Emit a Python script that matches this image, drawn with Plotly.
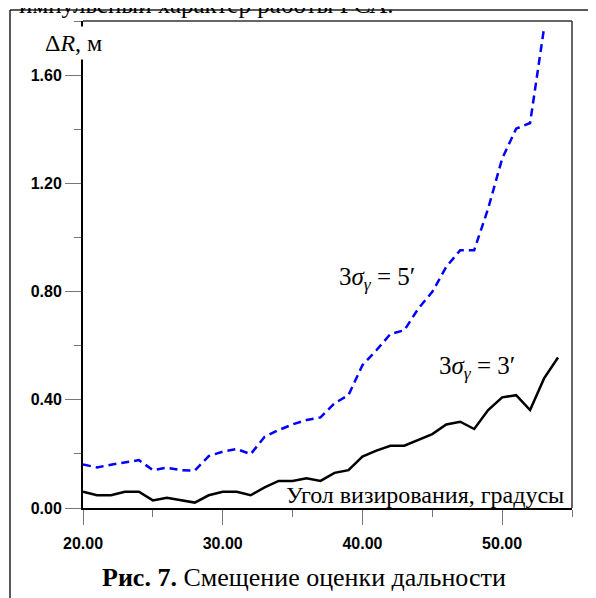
import plotly.graph_objects as go

# ---- data ----
angles_3 = list(range(20, 55))
offset_3 = [0.060, 0.047, 0.047, 0.060, 0.060, 0.028, 0.038, 0.030, 0.020, 0.047,
            0.060, 0.060, 0.047, 0.076, 0.100, 0.100, 0.110, 0.100, 0.130, 0.140,
            0.190, 0.212, 0.230, 0.230, 0.251, 0.273, 0.309, 0.319, 0.292, 0.362,
            0.409, 0.417, 0.362, 0.479, 0.556]
angles_5 = list(range(20, 54))
offset_5 = [0.161, 0.150, 0.160, 0.169, 0.177, 0.140, 0.149, 0.140, 0.138, 0.192,
            0.208, 0.218, 0.199, 0.263, 0.288, 0.309, 0.325, 0.335, 0.387, 0.417,
            0.528, 0.583, 0.643, 0.657, 0.737, 0.799, 0.891, 0.953, 0.953, 1.107,
            1.291, 1.402, 1.423, 1.774]
x_ticks = [20, 30, 40, 50]
x_tick_labels = ["20.00", "30.00", "40.00", "50.00"]
y_ticks = [0.0, 0.4, 0.8, 1.2, 1.6]
y_tick_labels = ["0.00", "0.40", "0.80", "1.20", "1.60"]

# the page body has an 8px margin, so the figure is placed 8px in from top-left
OFF = 8
PAGE_W, PAGE_H = 596, 598
W, H = PAGE_W - OFF, PAGE_H - OFF
PL, PR, PT, PB = 83, 572, 21, 508          # plot area in page pixels
L, R, T, B = PL - OFF, PAGE_W - PR, PT - OFF, PAGE_H - PB
PW, PH = PR - PL, PB - PT


def px(p):
    return (p - PL) / PW


def py(p):
    return (PB - p) / PH


SERIF = "Liberation Serif, Times New Roman, serif"
TICKFONT = dict(family="Liberation Sans, Arial, sans-serif", size=16,
                color="black", weight="bold")

fig = go.Figure()
fig.add_trace(go.Scatter(x=angles_5, y=offset_5, mode="lines",
                         line=dict(color="#0000ff", width=2.5, dash="8px,5px"),
                         showlegend=False, cliponaxis=False))
fig.add_trace(go.Scatter(x=angles_3, y=offset_3, mode="lines",
                         line=dict(color="black", width=2.5),
                         showlegend=False))

fig.update_layout(
    width=W, height=H,
    margin=dict(l=L, r=R, t=T, b=B, autoexpand=False),
    paper_bgcolor="white", plot_bgcolor="white",
    xaxis=dict(range=[20, 55], tickvals=x_ticks, ticktext=x_tick_labels,
               ticks="outside", ticklen=15, tickwidth=1.3, tickcolor="#777",
               minor=dict(tickvals=[25, 35, 45, 55], ticks="outside", ticklen=7,
                          tickwidth=1.3, tickcolor="#777"),
               showgrid=False, zeroline=False, showline=True,
               linecolor="black", linewidth=2, mirror=False,
               tickfont=TICKFONT, ticklabelstandoff=5),
    yaxis=dict(range=[0, 1.8], tickvals=y_ticks, ticktext=y_tick_labels,
               ticks="outside", ticklen=16, tickwidth=1.3, tickcolor="#777",
               minor=dict(tickvals=[0.2, 0.6, 1.0, 1.4, 1.8], ticks="outside",
                          ticklen=7, tickwidth=1.3, tickcolor="#777"),
               showgrid=False, zeroline=False, showline=True,
               linecolor="black", linewidth=2, mirror=False,
               tickfont=TICKFONT, ticklabelstandoff=0),
)

# plot frame: top and right
fig.add_shape(type="line", xref="paper", yref="paper", x0=0, x1=1, y0=1, y1=1,
              line=dict(color="#333", width=1.5))
fig.add_shape(type="line", xref="paper", yref="paper", x0=1, x1=1, y0=0, y1=1,
              line=dict(color="#333", width=1.5))
# outer page frame
fig.add_shape(type="line", xref="paper", yref="paper", x0=px(10), x1=px(10),
              y0=py(10), y1=py(600), line=dict(color="#222", width=1.5))
fig.add_shape(type="line", xref="paper", yref="paper", x0=px(10), x1=px(600),
              y0=py(10), y1=py(10), line=dict(color="#222", width=1.5))

ann = []
ann.append(dict(text="импульсный характер работы РСА.", x=px(17), y=py(20),
                xanchor="left", yanchor="bottom",
                font=dict(family=SERIF, size=25, color="black")))
ann.append(dict(text="Δ<i>R</i>, м", x=px(41), y=py(43), xanchor="left",
                yanchor="middle", bgcolor="white", borderpad=3,
                font=dict(family=SERIF, size=24, color="black")))
ann.append(dict(text="3<i>σ</i><sub><i>γ</i></sub> = 5′", x=px(337), y=py(278),
                xanchor="left", yanchor="middle",
                font=dict(family=SERIF, size=25, color="black")))
ann.append(dict(text="3<i>σ</i><sub><i>γ</i></sub> = 3′", x=px(437), y=py(367),
                xanchor="left", yanchor="middle",
                font=dict(family=SERIF, size=25, color="black")))
ann.append(dict(text="Угол визирования, градусы", x=px(566), y=py(495),
                xanchor="right", yanchor="middle",
                font=dict(family=SERIF, size=24, color="black")))
ann.append(dict(text="<b>Рис. 7.</b> Смещение оценки дальности", x=px(100),
                y=py(577), xanchor="left", yanchor="middle",
                font=dict(family=SERIF, size=26, color="black")))
for a in ann:
    a.update(xref="paper", yref="paper", showarrow=False)
fig.update_layout(annotations=ann)

fig.write_html("out.html")
